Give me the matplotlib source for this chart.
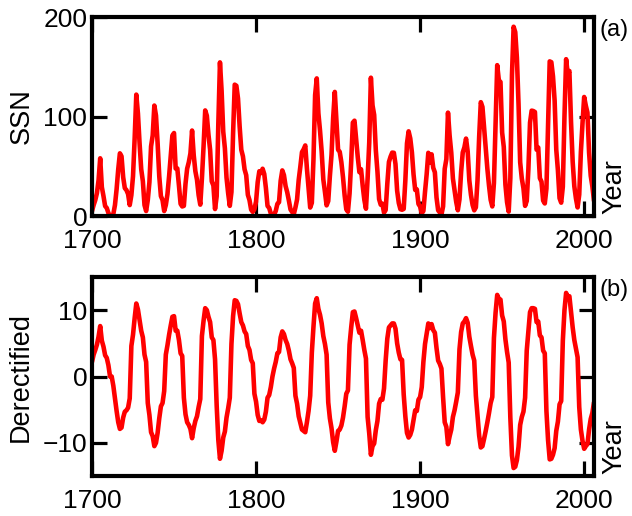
import matplotlib
matplotlib.use("Agg")
import matplotlib.pyplot as plt
import numpy as np

plt.rcParams['font.family'] = ['Liberation Sans', 'DejaVu Sans']

years = list(range(1700, 2007))

ssn = [
    5, 11, 16, 23, 36, 58, 29, 20, 10, 8,                 # 1700-1709
    3, 0, 0, 2, 11, 27, 47, 63, 60, 39,                   # 1710-1719
    28, 26, 22, 11, 21, 40, 78, 122, 103, 73,             # 1720-1729
    47, 35, 11, 5, 16, 34, 70, 81, 111, 101,              # 1730-1739
    73, 40, 20, 16, 5, 11, 22, 40, 60, 80.9,              # 1740-1749
    83.4, 47.7, 47.8, 30.7, 12.2, 9.6, 10.2, 32.4, 47.6, 54.0,   # 1750-1759
    62.9, 85.9, 61.2, 45.1, 36.4, 20.9, 11.4, 37.8, 69.8, 106.1, # 1760-1769
    100.8, 81.6, 66.5, 34.8, 30.6, 7.0, 19.8, 92.5, 154.4, 125.9, # 1770-1779
    84.8, 68.1, 38.5, 22.8, 10.2, 24.1, 82.9, 132.0, 130.9, 118.1, # 1780-1789
    89.9, 66.6, 60.0, 46.9, 41.0, 21.3, 16.0, 6.4, 4.1, 6.8,     # 1790-1799
    14.5, 34.0, 45.0, 43.1, 47.5, 42.2, 28.1, 10.1, 8.1, 2.5,    # 1800-1809
    0.0, 1.4, 5.0, 12.2, 13.9, 35.4, 45.8, 41.1, 30.1, 23.9,     # 1810-1819
    15.6, 6.6, 4.0, 1.8, 8.5, 16.6, 36.3, 49.6, 64.2, 67.0,      # 1820-1829
    70.9, 47.8, 27.5, 8.5, 13.2, 56.9, 121.5, 138.3, 103.2, 85.7, # 1830-1839
    64.6, 36.7, 24.2, 10.7, 15.0, 40.1, 61.5, 98.5, 124.7, 96.3,  # 1840-1849
    66.6, 64.5, 54.1, 39.0, 20.6, 6.7, 4.3, 22.7, 54.8, 93.8,     # 1850-1859
    95.8, 77.2, 59.1, 44.0, 47.0, 30.5, 16.3, 7.3, 37.6, 74.0,    # 1860-1869
    139.0, 111.2, 101.6, 66.2, 44.7, 17.0, 11.3, 12.4, 3.4, 6.0,  # 1870-1879
    32.3, 54.3, 59.7, 63.7, 63.5, 52.2, 25.4, 13.1, 6.8, 6.3,     # 1880-1889
    7.1, 35.6, 73.0, 85.1, 78.0, 64.0, 41.8, 26.2, 26.7, 12.1,    # 1890-1899
    9.5, 2.7, 5.0, 24.4, 42.0, 63.5, 53.8, 62.0, 48.5, 43.9,      # 1900-1909
    18.6, 5.7, 3.6, 1.4, 9.6, 47.4, 57.1, 103.9, 80.6, 63.6,      # 1910-1919
    37.6, 26.1, 14.2, 5.8, 16.7, 44.3, 63.9, 69.0, 77.8, 64.9,    # 1920-1929
    35.7, 21.2, 11.1, 5.7, 8.7, 36.1, 79.7, 114.4, 109.6, 88.8,   # 1930-1939
    67.8, 47.5, 30.6, 16.3, 9.6, 33.2, 92.6, 151.6, 136.3, 134.7, # 1940-1949
    83.9, 69.4, 31.5, 13.9, 4.4, 38.0, 141.7, 190.2, 184.8, 159.0, # 1950-1959
    112.3, 53.9, 37.6, 27.9, 10.2, 15.1, 47.0, 93.8, 105.9, 105.5, # 1960-1969
    104.5, 66.6, 68.9, 38.0, 34.5, 15.5, 12.6, 27.5, 92.5, 155.4,  # 1970-1979
    154.6, 140.4, 115.9, 66.6, 45.9, 17.9, 13.4, 29.4, 100.2, 157.6, # 1980-1989
    142.6, 145.7, 94.3, 54.6, 29.9, 17.5, 8.6, 21.5, 64.3, 93.3,   # 1990-1999
    119.6, 111.0, 104.0, 63.7, 40.4, 29.8, 15.2,                   # 2000-2006
]

derectified = [
    2.2, 3.3, 4.0, 4.8, 6.0, 7.6, 5.4, 4.5, 3.2, 2.8,            # 1700
    1.7, 0.0, 0.0, -1.4, -3.3, -5.2, -6.9, -7.9, -7.7, -6.2,     # 1710
    -5.3, -5.1, -4.7, -3.3, 4.6, 6.3, 8.8, 11.0, 10.1, 8.5,      # 1720
    6.9, 5.9, 3.3, 2.2, -4.0, -5.8, -8.4, -9.0, -10.5, -10.0,    # 1730
    -8.5, -6.3, -4.5, -4.0, -2.2, 3.3, 4.7, 6.3, 7.7, 9.0,       # 1740
    9.1, 6.9, 6.9, 5.5, 3.5, 3.1, -3.2, -5.7, -6.9, -7.3,        # 1750
    -7.9, -9.3, -7.8, -6.7, -6.0, -4.6, -3.4, 6.1, 8.4, 10.3,    # 1760
    10.0, 9.0, 8.2, 5.9, 5.5, 2.6, -4.4, -9.6, -12.4, -11.2,     # 1770
    -9.2, -8.3, -6.2, -4.8, -3.2, 4.9, 9.1, 11.5, 11.4, 10.9,    # 1780
    9.5, 8.2, 7.7, 6.8, 6.4, 4.6, 4.0, 2.5, 2.0, -2.6,           # 1790
    -3.8, -5.8, -6.7, -6.6, -6.9, -6.5, -5.3, -3.2, -2.8, -1.6,  # 1800
    0.0, 1.2, 2.2, 3.5, 3.7, 5.9, 6.8, 6.4, 5.5, 4.9,            # 1810
    3.9, 2.6, 2.0, 1.3, -2.9, -4.1, -6.0, -7.0, -8.0, -8.2,      # 1820
    -8.4, -6.9, -5.2, -2.9, 3.6, 7.5, 11.0, 11.8, 10.2, 9.3,     # 1830
    8.0, 6.1, 4.9, 3.3, -3.9, -6.3, -7.8, -9.9, -11.2, -9.8,     # 1840
    -8.2, -8.0, -7.4, -6.2, -4.5, -2.6, -2.1, 4.8, 7.4, 9.7,     # 1850
    9.8, 8.8, 7.7, 6.6, 6.9, 5.5, 4.0, 2.7, -6.1, -8.6,          # 1860
    -11.8, -10.5, -10.1, -8.1, -6.7, -4.1, -3.4, -3.5, -1.8, 2.4, # 1870
    5.7, 7.4, 7.7, 8.0, 8.0, 7.2, 5.0, 3.6, 2.6, 2.5,            # 1880
    -2.7, -6.0, -8.5, -9.2, -8.8, -8.0, -6.5, -5.1, -5.2, -3.5,  # 1890
    -3.1, -1.6, 2.2, 4.9, 6.5, 8.0, 7.3, 7.9, 7.0, 6.6,          # 1900
    4.3, 2.4, 1.9, 1.2, -3.1, -6.9, -7.6, -10.2, -9.0, -8.0,     # 1910
    -6.1, -5.1, -3.8, -2.4, 4.1, 6.7, 8.0, 8.3, 8.8, 8.1,        # 1920
    6.0, 4.6, 3.3, 2.4, -2.9, -6.0, -8.9, -10.7, -10.5, -9.4,    # 1930
    -8.2, -6.9, -5.5, -4.0, -3.1, 5.8, 9.6, 12.3, 11.7, 11.6,    # 1940
    9.2, 8.3, 5.6, 3.7, 2.1, -6.2, -11.9, -13.8, -13.6, -12.6,   # 1950
    -10.6, -7.3, -6.1, -5.3, -3.2, 3.9, 6.9, 9.7, 10.3, 10.3,    # 1960
    10.2, 8.2, 8.3, 6.2, 5.9, 3.9, 3.5, -5.2, -9.6, -12.5,       # 1970
    -12.4, -11.8, -10.8, -8.2, -6.8, -4.2, -3.7, 5.4, 10.0, 12.6, # 1980
    11.9, 12.1, 9.7, 7.4, 5.5, 4.2, 2.9, -4.6, -8.0, -9.7,       # 1990
    -10.9, -10.5, -10.2, -8.0, -6.4, -5.5, -3.9,                 # 2000
]

xticks = [1700, 1800, 1900, 2000]
yticks_a = [0, 100, 200]
yticks_b = [-10, 0, 10]

W, H = 632, 516
fig = plt.figure(figsize=(W / 100, H / 100), dpi=100)

left = 92 / W
width = (594 - 92) / W
ax_a = fig.add_axes([left, 1 - 216 / H, width, 199 / H])
ax_b = fig.add_axes([left, 1 - 476 / H, width, 199 / H])

red = '#ff0000'
ax_a.plot(years, ssn, color=red, lw=3.3, solid_joinstyle='round', solid_capstyle='round')
ax_b.plot(years, derectified, color=red, lw=3.3, solid_joinstyle='round', solid_capstyle='round')

ax_a.set_ylim(0, 200)
ax_b.set_ylim(-15, 15)
ax_a.set_yticks(yticks_a)
ax_b.set_yticks(yticks_b)

for ax, lab, letter in [(ax_a, 'SSN', '(a)'), (ax_b, 'Derectified', '(b)')]:
    ax.set_xlim(1700, 2006)
    ax.set_xticks(xticks)
    for s in ax.spines.values():
        s.set_linewidth(3.0)
    ax.tick_params(direction='in', length=11, width=2.3, top=True, right=True,
                   labelsize=19, colors='black')
    ax.tick_params(axis='x', pad=9.5)
    ax.tick_params(axis='y', pad=3.5)
    ax.set_ylabel(lab, fontsize=19.5, labelpad=6)
    ax.text(1.014, 0.01, 'Year', transform=ax.transAxes, rotation=90,
            ha='left', va='bottom', fontsize=19.5)
    ax.text(1.01, 0.99, letter, transform=ax.transAxes,
            ha='left', va='top', fontsize=17)

fig.savefig('out.png', dpi=100)
